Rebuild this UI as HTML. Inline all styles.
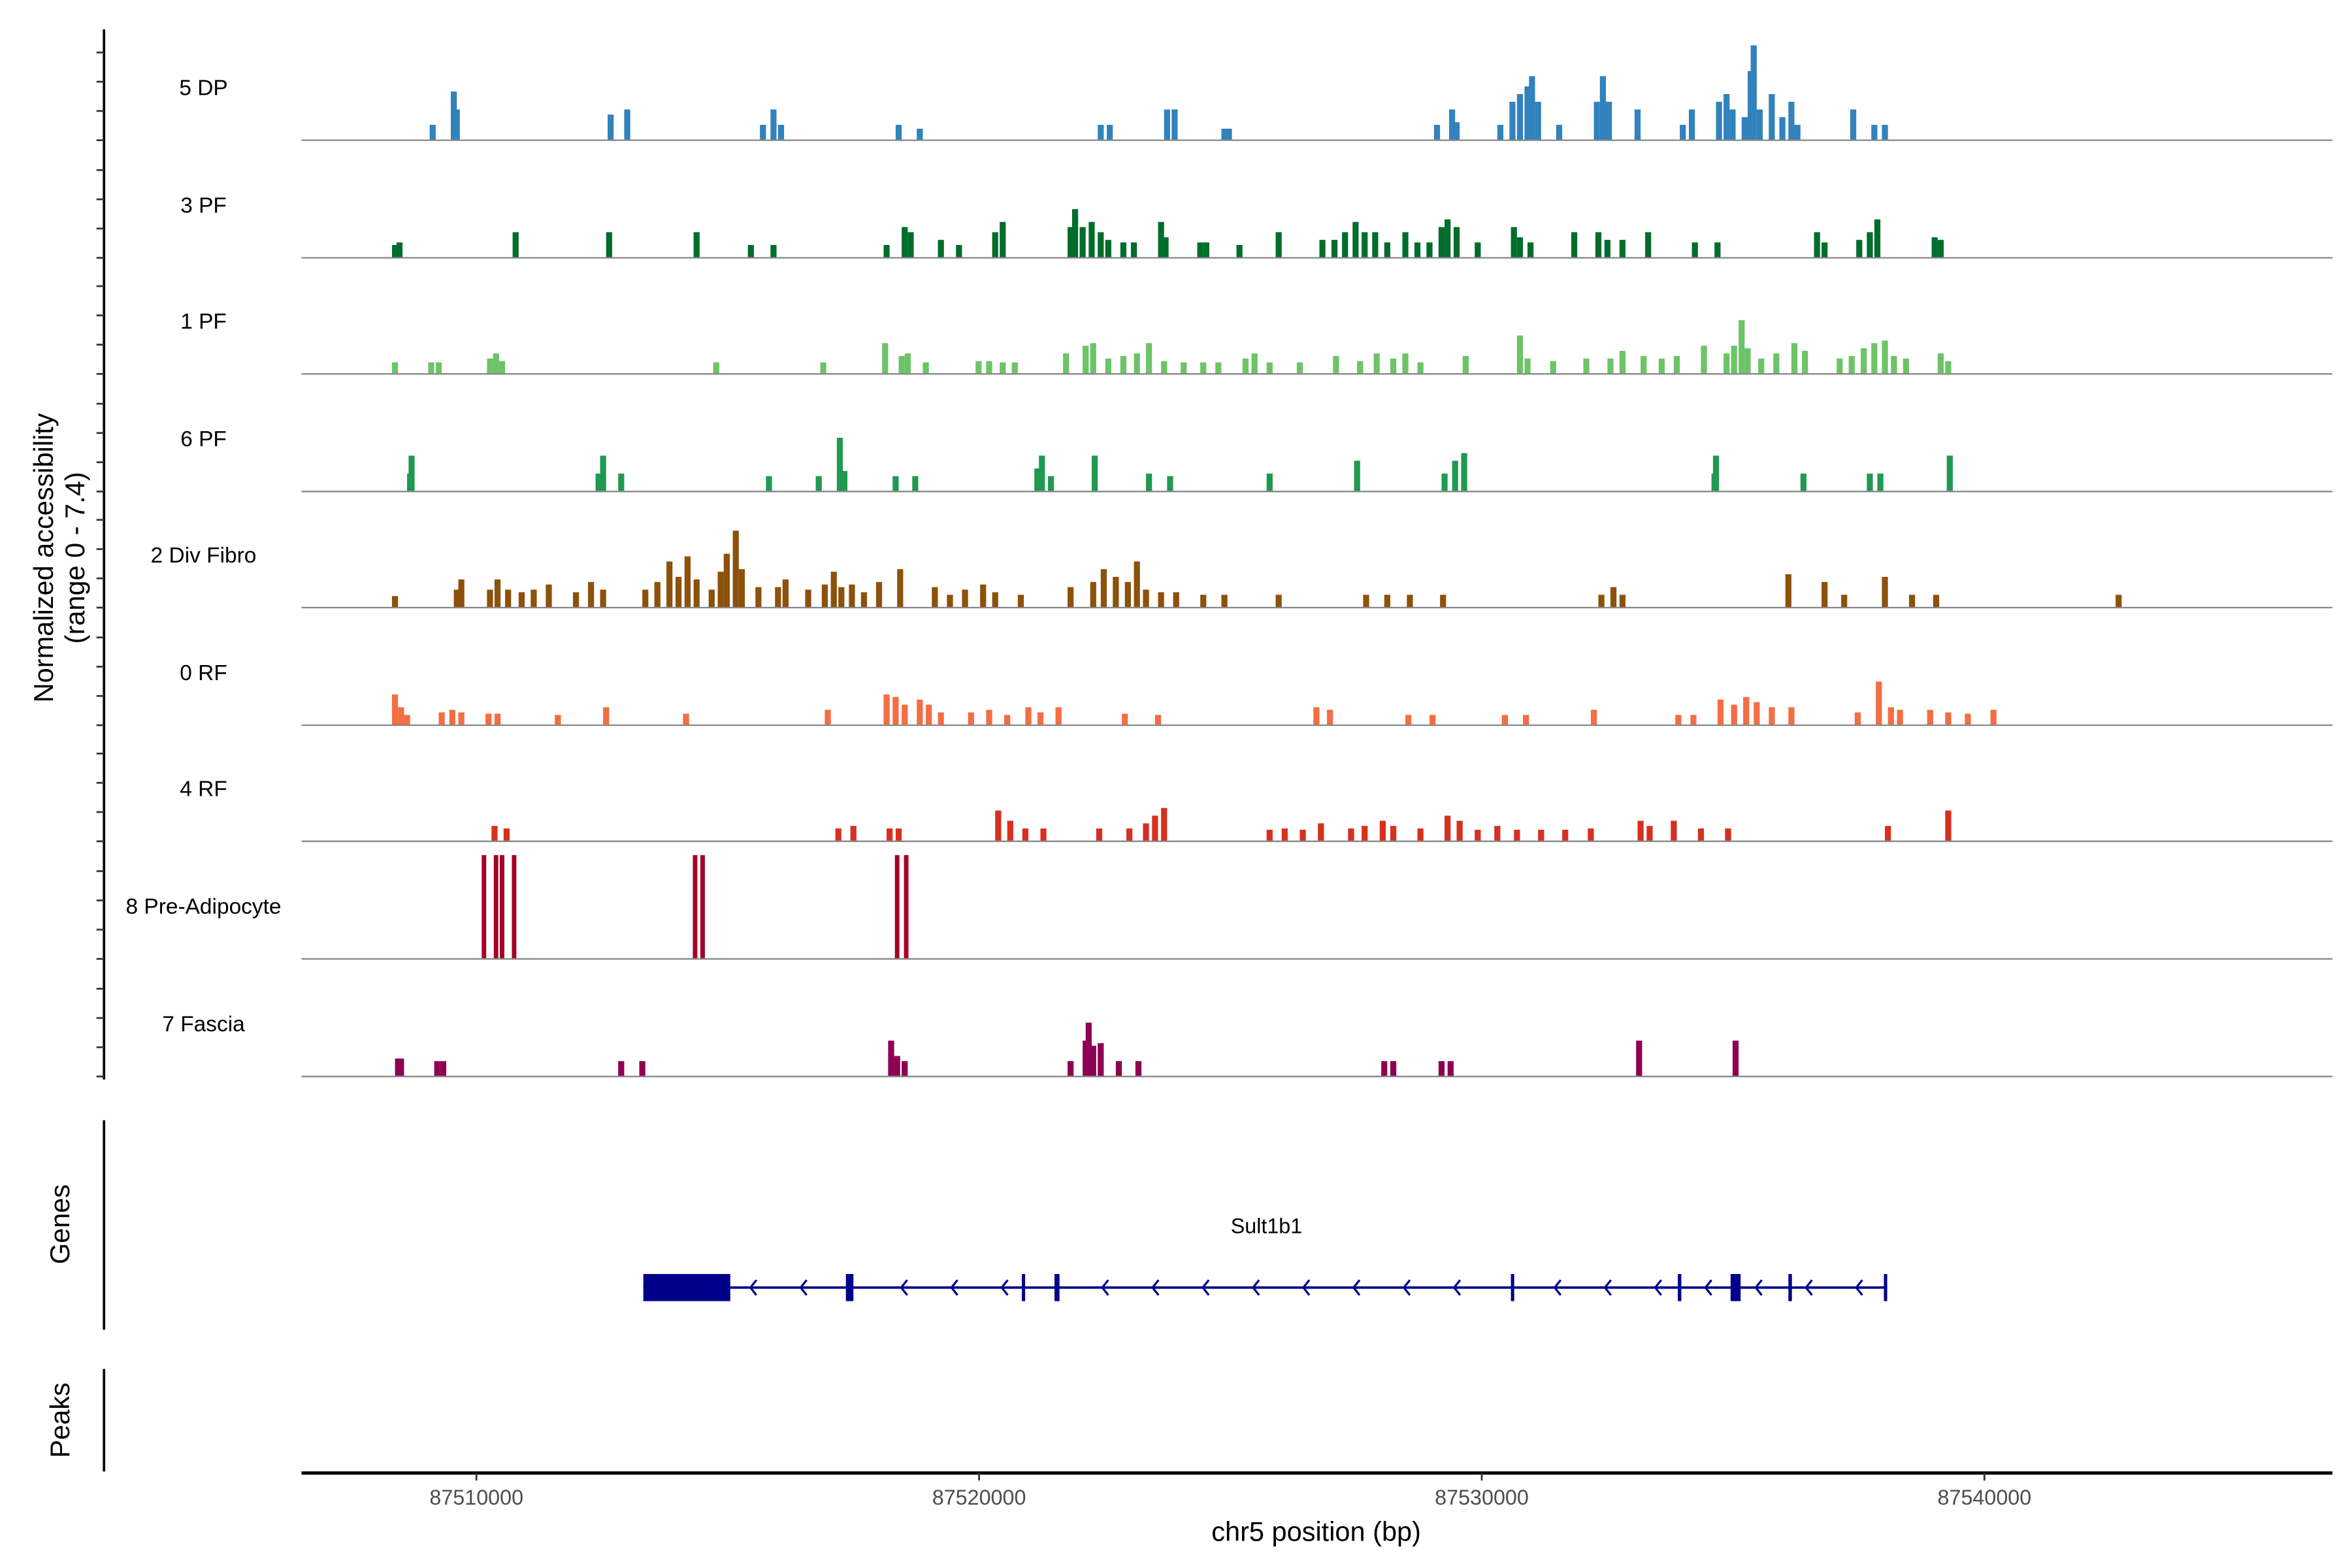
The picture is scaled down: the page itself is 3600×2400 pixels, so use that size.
<!DOCTYPE html>
<html><head><meta charset="utf-8"><style>
html,body{margin:0;padding:0;background:#fff}
svg{display:block;font-family:"Liberation Sans",Arial,sans-serif}
</style></head><body>
<svg id="chart" width="3600" height="2400" viewBox="0 0 1560 1040" xmlns="http://www.w3.org/2000/svg">
<rect width="1560" height="1040" fill="#fff"/>
<g id="tracks"></g>
<line x1="69" y1="19.5" x2="69" y2="716" stroke="#000" stroke-width="1.6"/>
<g id="yticks"></g>
<text transform="translate(35,370) rotate(-90)" text-anchor="middle" font-size="18">Normalized accessibility</text>
<text transform="translate(56,370) rotate(-90)" text-anchor="middle" font-size="18">(range 0 - 7.4)</text>
<line x1="69" y1="743" x2="69" y2="882" stroke="#000" stroke-width="1.6"/>
<text transform="translate(46,812) rotate(-90)" text-anchor="middle" font-size="18">Genes</text>
<line x1="69" y1="908" x2="69" y2="976" stroke="#000" stroke-width="1.6"/>
<text transform="translate(46,942) rotate(-90)" text-anchor="middle" font-size="18">Peaks</text>
<g id="gene"></g>
<line x1="200" y1="977" x2="1547" y2="977" stroke="#000" stroke-width="2.2"/>
<g id="xticks"></g>
<text x="873" y="1022" text-anchor="middle" font-size="18">chr5 position (bp)</text>
</svg>
<script>
// positions in kb relative to 87,500,000; values normalized accessibility
const trackNames = ["5 DP","3 PF","1 PF","6 PF","2 Div Fibro","0 RF","4 RF","8 Pre-Adipocyte","7 Fascia"];
const trackColors = ["#3182bd","#006d2c","#6cc466","#1f9a50","#8c510a","#f46d43","#d7301f","#a50026","#8e0152"];
const dp5 = [[9.13,1.2],[9.55,3.8],[9.61,2.4],[12.67,2.0],[13.0,2.4],[15.7,1.2],[15.91,2.4],[16.06,1.2],[18.4,1.2],[18.82,0.9],[22.42,1.2],[22.6,1.2],[23.74,2.4],[23.89,2.4],[24.88,0.9],[24.97,0.9],[29.11,1.2],[29.41,2.4],[29.5,1.4],[30.37,1.2],[30.61,3.0],[30.76,3.6],[30.91,4.2],[31.0,5.0],[31.12,3.0],[31.54,1.2],[32.29,3.0],[32.41,5.0],[32.53,3.0],[33.1,2.4],[34.0,1.2],[34.18,2.4],[34.72,3.0],[34.87,3.6],[34.99,2.4],[35.23,1.8],[35.35,5.4],[35.41,7.4],[35.53,2.4],[35.77,3.6],[35.98,1.8],[36.16,3.0],[36.28,1.2],[37.39,2.4],[37.81,1.2],[38.02,1.2]];
const pf3 = [[8.38,1.0],[8.47,1.2],[10.78,2.0],[12.64,2.0],[14.38,2.0],[15.46,1.0],[15.91,1.0],[18.16,1.0],[18.52,2.4],[18.64,2.0],[19.24,1.4],[19.6,1.0],[20.32,2.0],[20.47,2.8],[21.82,2.4],[21.91,3.8],[22.06,2.4],[22.24,2.8],[22.42,2.0],[22.57,1.4],[22.87,1.2],[23.08,1.2],[23.62,2.8],[23.71,1.6],[24.4,1.2],[24.52,1.2],[25.18,1.0],[25.96,2.0],[26.83,1.4],[27.07,1.4],[27.28,2.0],[27.49,2.8],[27.67,2.0],[27.88,2.0],[28.12,1.2],[28.48,2.0],[28.72,1.2],[28.96,1.2],[29.2,2.4],[29.32,3.0],[29.5,2.4],[29.92,1.2],[30.64,2.4],[30.76,1.6],[30.97,1.2],[31.84,2.0],[32.32,2.0],[32.5,1.4],[32.8,1.4],[33.31,2.0],[34.24,1.2],[34.69,1.2],[36.67,2.0],[36.82,1.2],[37.51,1.4],[37.72,2.0],[37.87,3.0],[39.01,1.6],[39.13,1.4]];
const pf1 = [[8.38,0.9],[9.1,0.9],[9.25,0.9],[10.27,1.2],[10.39,1.6],[10.51,1.0],[14.77,0.9],[16.9,0.9],[18.13,2.4],[18.46,1.4],[18.58,1.6],[18.94,0.9],[19.99,1.0],[20.2,1.0],[20.47,0.9],[20.71,0.9],[21.73,1.6],[22.12,2.2],[22.27,2.4],[22.57,1.2],[22.87,1.4],[23.14,1.6],[23.38,2.4],[23.68,1.0],[24.07,0.9],[24.46,0.9],[24.76,0.9],[25.3,1.2],[25.48,1.6],[25.78,0.9],[26.38,0.9],[27.1,1.4],[27.58,1.0],[27.91,1.6],[28.24,1.2],[28.48,1.6],[28.78,0.9],[29.68,1.4],[30.76,3.0],[30.91,1.2],[31.42,1.0],[32.08,1.2],[32.56,1.2],[32.8,1.8],[33.22,1.4],[33.58,1.2],[33.88,1.4],[34.42,2.2],[34.87,1.6],[35.02,2.2],[35.17,4.2],[35.29,2.0],[35.56,1.2],[35.86,1.6],[36.22,2.4],[36.43,1.8],[37.12,1.2],[37.36,1.4],[37.6,2.0],[37.81,2.4],[38.02,2.6],[38.2,1.4],[38.44,1.2],[39.13,1.6],[39.28,1.0]];
const pf6 = [[8.68,1.4],[8.71,2.8],[12.43,1.4],[12.52,2.8],[12.88,1.4],[15.82,1.2],[16.81,1.2],[17.23,4.2],[17.32,1.6],[18.34,1.2],[18.73,1.2],[21.16,1.8],[21.25,2.8],[21.43,1.2],[22.3,2.8],[23.38,1.4],[23.8,1.2],[25.78,1.4],[27.52,2.4],[29.26,1.4],[29.47,2.4],[29.65,3.0],[34.63,1.4],[34.66,2.8],[36.4,1.4],[37.72,1.4],[37.93,1.4],[39.31,2.8]];
const divFibro2 = [[8.38,0.9],[9.61,1.4],[9.7,2.2],[10.27,1.4],[10.42,2.2],[10.63,1.4],[10.9,1.2],[11.14,1.4],[11.44,1.8],[11.98,1.2],[12.28,2.0],[12.52,1.4],[13.36,1.4],[13.6,2.0],[13.84,3.6],[14.02,2.4],[14.2,4.0],[14.38,2.2],[14.68,1.4],[14.86,2.8],[14.98,4.2],[15.16,6.0],[15.28,3.0],[15.61,1.6],[16.0,1.6],[16.15,2.2],[16.6,1.4],[16.93,1.8],[17.11,2.8],[17.26,1.6],[17.47,1.8],[17.71,1.2],[18.01,2.0],[18.43,3.0],[19.12,1.6],[19.42,1.0],[19.72,1.4],[20.08,1.8],[20.32,1.2],[20.83,1.0],[21.82,1.6],[22.27,2.0],[22.48,3.0],[22.72,2.4],[22.96,2.0],[23.14,3.6],[23.32,1.4],[23.62,1.2],[23.92,1.2],[24.46,1.0],[24.88,1.0],[25.96,1.0],[27.7,1.0],[28.12,1.0],[28.57,1.0],[29.23,1.0],[32.38,1.0],[32.62,1.6],[32.8,1.0],[36.1,2.6],[36.82,2.0],[37.21,1.0],[38.02,2.4],[38.56,1.0],[39.04,1.0],[42.67,1.0]];
const rf0 = [[8.38,2.4],[8.5,1.4],[8.62,0.8],[9.31,1.0],[9.52,1.2],[9.7,1.0],[10.24,0.9],[10.42,0.9],[11.62,0.8],[12.58,1.4],[14.17,0.9],[16.99,1.2],[18.16,2.4],[18.34,2.2],[18.52,1.6],[18.82,2.0],[19.0,1.6],[19.24,1.0],[19.84,1.0],[20.2,1.2],[20.56,0.8],[20.98,1.4],[21.22,1.0],[21.58,1.4],[22.9,0.9],[23.56,0.8],[26.71,1.4],[26.98,1.2],[28.54,0.8],[29.02,0.8],[30.46,0.8],[30.88,0.8],[32.23,1.2],[33.91,0.8],[34.21,0.8],[34.75,2.0],[35.02,1.6],[35.26,2.2],[35.47,1.8],[35.77,1.4],[36.16,1.4],[37.48,1.0],[37.9,3.4],[38.14,1.4],[38.32,1.2],[38.92,1.2],[39.28,1.0],[39.67,0.9],[40.18,1.2]];
const rf4 = [[10.36,1.2],[10.6,1.0],[17.2,1.0],[17.5,1.2],[18.22,1.0],[18.4,1.0],[20.38,2.4],[20.62,1.6],[20.92,1.0],[21.28,1.0],[22.39,1.0],[22.99,1.0],[23.32,1.4],[23.5,2.0],[23.68,2.6],[25.78,0.9],[26.08,1.0],[26.44,0.9],[26.8,1.4],[27.4,1.0],[27.67,1.2],[28.03,1.6],[28.24,1.2],[28.78,1.0],[29.32,2.0],[29.56,1.6],[29.92,0.9],[30.31,1.2],[30.7,0.9],[31.18,0.9],[31.66,0.9],[32.17,1.0],[33.16,1.6],[33.34,1.2],[33.82,1.6],[34.36,1.0],[34.9,1.0],[38.08,1.2],[39.28,2.4]];
const preAdipo8 = [[10.15,8.1],[10.39,8.1],[10.51,8.1],[10.75,8.1],[14.35,8.1],[14.5,8.1],[18.37,8.1],[18.55,8.1]];
const fascia7 = [[8.44,1.4],[8.5,1.4],[9.22,1.2],[9.34,1.2],[12.88,1.2],[13.3,1.2],[18.25,2.8],[18.37,1.6],[18.52,1.2],[21.82,1.2],[22.12,2.8],[22.18,4.2],[22.27,2.4],[22.42,2.6],[22.78,1.2],[23.17,1.2],[28.06,1.2],[28.24,1.2],[29.2,1.2],[29.38,1.2],[33.13,2.8],[35.05,2.8]];
const trackData = [dp5,pf3,pf1,pf6,divFibro2,rf0,rf4,preAdipo8,fascia7];
const xTickValues = [10,20,30,40];
const xTickLabels = ["87510000","87520000","87530000","87540000"];
const exonStarts = [17.35,20.85,21.5,30.58,33.9,34.95,36.1,38.0];
const exonEnds = [17.5,20.9,21.6,30.63,33.97,35.15,36.17,38.05];
const utrStart = 13.32, utrEnd = 15.05, geneEnd = 38.05;
const arrowPositions = [15.45,16.45,18.45,19.45,20.45,22.45,23.45,24.45,25.45,26.45,27.45,28.45,29.45,31.45,32.45,33.45,34.45,35.45,36.45,37.45];

const NS = "http://www.w3.org/2000/svg";
const X0 = 316, PXKB = 33.34;
function xScale(kb){ return X0 + (kb - 10) * PXKB; }
const baselines = [93,171,248,326,403,481,558,636,714];
const VSCALE = 8.5;
function yScale(t, v){ return baselines[t] - v * VSCALE; }
function mk(tag, attrs, parent){ const e = document.createElementNS(NS, tag); for (const k in attrs) e.setAttribute(k, attrs[k]); parent.appendChild(e); return e; }

const tracks = document.getElementById("tracks");
trackData.forEach((arr, t) => {
  const g = mk("g", {}, tracks);
  
  
  const lbl = mk("text", {x:135, y:baselines[t]-30, "text-anchor":"middle", "font-size":14.5, fill:"#000"}, g);
  lbl.textContent = trackNames[t];
  
  
  arr.forEach(d => {
    const x = xScale(d[0]);
    const y = yScale(t, d[1]);
    const w = t === 7 ? 3 : 4;
    const r = mk("rect", {x:x-w/2, y:y, width:w, height:baselines[t]-y, fill:trackColors[t]}, g);
    
    
  });
  const bl = mk("line", {x1:200, x2:1547, y1:baselines[t], y2:baselines[t], stroke:"#888", "stroke-width":1}, g);
  
  
});

const yt = document.getElementById("yticks");
baselines.forEach(b => {
  for (let k = 0; k < 4; k++) {
    const yy = b - k * 19.4;
    if (yy < 20) continue;
    const l = mk("line", {x1:64, x2:69, y1:yy, y2:yy, stroke:"#333", "stroke-width":1.2}, yt);
    
    
  }
});

const xt = document.getElementById("xticks");
xTickValues.forEach((v, i) => {
  const x = xScale(v);
  const l = mk("line", {x1:x, x2:x, y1:977, y2:982, stroke:"#333", "stroke-width":1.2}, xt);
  
  
  const tx = mk("text", {x:x, y:998, "text-anchor":"middle", "font-size":14, fill:"#4d4d4d"}, xt);
  tx.textContent = xTickLabels[i];
  
  
});

const gg = document.getElementById("gene");
const gy = 854;
const ln = mk("line", {x1:xScale(utrStart), x2:xScale(geneEnd), y1:gy, y2:gy, stroke:"#00008b", "stroke-width":1.6}, gg);


const utr = mk("rect", {x:xScale(utrStart), y:845, width:xScale(utrEnd)-xScale(utrStart), height:18, fill:"#00008b"}, gg);


exonStarts.forEach((s, i) => {
  const x1 = xScale(s), x2 = xScale(exonEnds[i]);
  const e = mk("rect", {x:x1, y:845, width:Math.max(x2-x1,2.2), height:18, fill:"#00008b"}, gg);
  
  
});
arrowPositions.forEach(a => {
  const x = xScale(a);
  const p = mk("polyline", {points:(x+4)+","+(gy-5)+" "+x+","+gy+" "+(x+4)+","+(gy+5), fill:"none", stroke:"#00008b", "stroke-width":1.4}, gg);
  
  
});
const gl = mk("text", {x:840, y:818, "text-anchor":"middle", "font-size":14}, gg);
gl.textContent = "Sult1b1";


</script>
</body></html>
